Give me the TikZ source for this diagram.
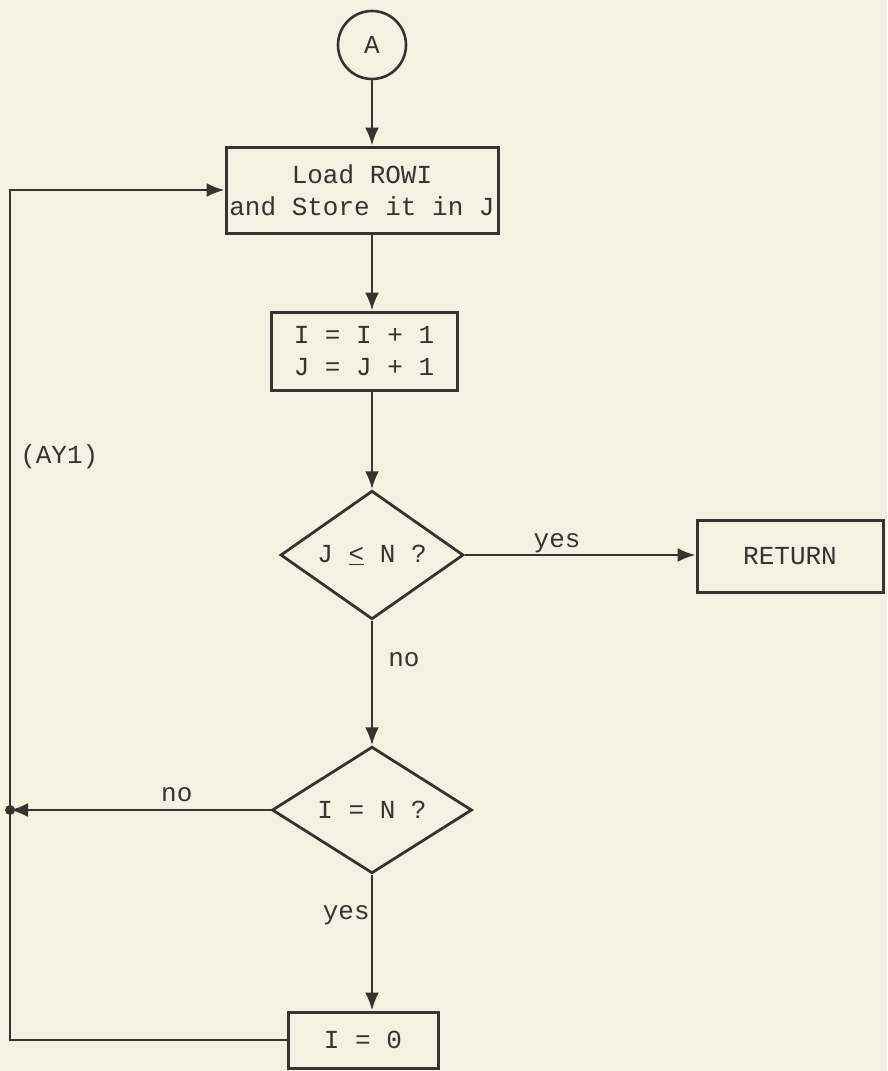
\documentclass[tikz,border=0pt]{standalone}
\usepackage{fontspec}
\setmainfont{Liberation Mono}
\usetikzlibrary{shapes.geometric,arrows.meta}
\definecolor{paper}{RGB}{243,241,226}
\definecolor{ink}{RGB}{55,52,48}

\begin{document}
\begin{tikzpicture}[
  x=1pt, y=1pt,
  font=\fontsize{26}{32}\selectfont,
  box/.style={draw=ink, text=ink, line width=3pt, align=center, inner sep=0pt},
  test/.style={draw=ink, text=ink, line width=2.8pt, diamond, align=center, inner sep=0pt},
  lbl/.style={text=ink, inner sep=1pt},
  flow/.style={draw=ink, line width=2.6pt, -{Latex[length=18pt,width=14pt]}},
  link/.style={draw=ink, line width=2.6pt}
]
\fill[paper] (0,0) rectangle (887,-1071);
\useasboundingbox (0,0) rectangle (887,-1071);

\node[box, circle, line width=2.6pt, minimum size=68pt] (start) at (372,-45) {A};
\node[box, minimum width=272pt, minimum height=86pt] (load) at (362,-190) {Load ROWI\\and Store it in J};
\node[box, minimum width=186pt, minimum height=78pt] (incr) at (364,-351) {I = I + 1\\J = J + 1};
\node[test, minimum width=183pt, minimum height=104pt] (testj) at (372,-555) {J \underline{<} N ?};
\node[box, minimum width=186pt, minimum height=72pt] (ret) at (790,-556) {RETURN};
\node[test, minimum width=200pt, minimum height=115pt] (testi) at (372,-810) {I = N ?};
\node[box, minimum width=150pt, minimum height=56pt] (reset) at (363,-1040) {I = 0};
\coordinate (jn) at (10,-810);

\draw[flow] (start) -- (start |- load.north);
\draw[flow] (start |- load.south) -- (start |- incr.north);
\draw[flow] (start |- incr.south) -- (testj);
\draw[flow] (testj) -- node[lbl, pos=0.40, above] {yes} (testj -| ret.west);
\draw[flow] (testj) -- node[lbl, pos=0.31, right=14pt] {no} (testi);
\draw[flow] (testi) -- node[lbl, pos=0.36, above=6pt] {no} (jn);
\draw[flow] (testi) -- node[lbl, pos=0.30, left=0pt] {yes} (testi |- reset.north);
\draw[link] (reset) -| (jn);
\draw[flow] (jn) |- node[lbl, pos=0.285, right=8pt] {(AY1)} (load);
\fill[ink] (jn) circle (5pt);
\end{tikzpicture}
\end{document}
